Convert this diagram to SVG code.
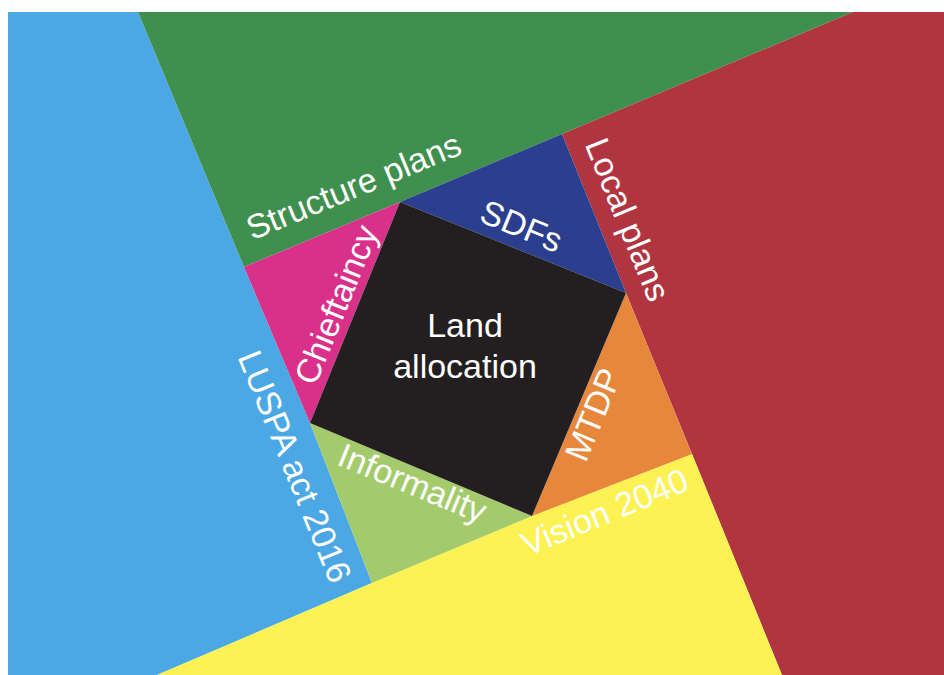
<svg xmlns="http://www.w3.org/2000/svg" width="944" height="675" viewBox="0 0 944 675">
<style>
text { font-family: "Liberation Sans", Arial, Helvetica, sans-serif; fill: #ffffff; font-size: 34px; text-anchor: middle; }
</style>
<rect x="0" y="0" width="944" height="675" fill="#ffffff"/>
<g id="luspa">
<polygon points="8,12 138,12 244,267 310,423 372,583 157,675 8,675" fill="#4BA8E5"/>
<text x="284" y="471" font-size="31" transform="rotate(67.8 284 471)">LUSPA act 2016</text>
</g>
<g id="structure-plans">
<polygon points="138,12 853,12 562,134 400,202 244,267" fill="#3F8F4E"/>
<text x="358" y="197" transform="rotate(-22.4 358 197)">Structure plans</text>
</g>
<g id="local-plans">
<polygon points="853,12 944,12 944,675 782,675 692,454 626,293 562,134" fill="#B03540"/>
<text x="617" y="224" transform="rotate(67.8 617 224)">Local plans</text>
</g>
<g id="vision-2040">
<polygon points="157,675 372,583 532,516 692,454 782,675" fill="#FCF253"/>
<text x="609" y="523" transform="rotate(-22.4 609 523)">Vision 2040</text>
</g>
<g id="chieftaincy">
<polygon points="244,267 400,202 310,423" fill="#D9308A"/>
<text x="347" y="309" transform="rotate(-67.8 347 309)">Chieftaincy</text>
</g>
<g id="sdfs">
<polygon points="400,202 562,134 626,293" fill="#2B3F8E"/>
<text x="517" y="237" transform="rotate(22.3 517 237)">SDFs</text>
</g>
<g id="mtdp">
<polygon points="626,293 692,454 532,516" fill="#E6873B"/>
<text x="604" y="419" transform="rotate(-67.8 604 419)">MTDP</text>
</g>
<g id="informality">
<polygon points="310,423 532,516 372,583" fill="#A3CB6B"/>
<text x="408" y="494" transform="rotate(22.3 408 494)">Informality</text>
</g>
<g id="land-allocation">
<polygon points="400,202 626,293 532,516 310,423" fill="#231F20"/>
<text x="465" y="337">Land</text>
<text x="465" y="378">allocation</text>
</g>
</svg>
